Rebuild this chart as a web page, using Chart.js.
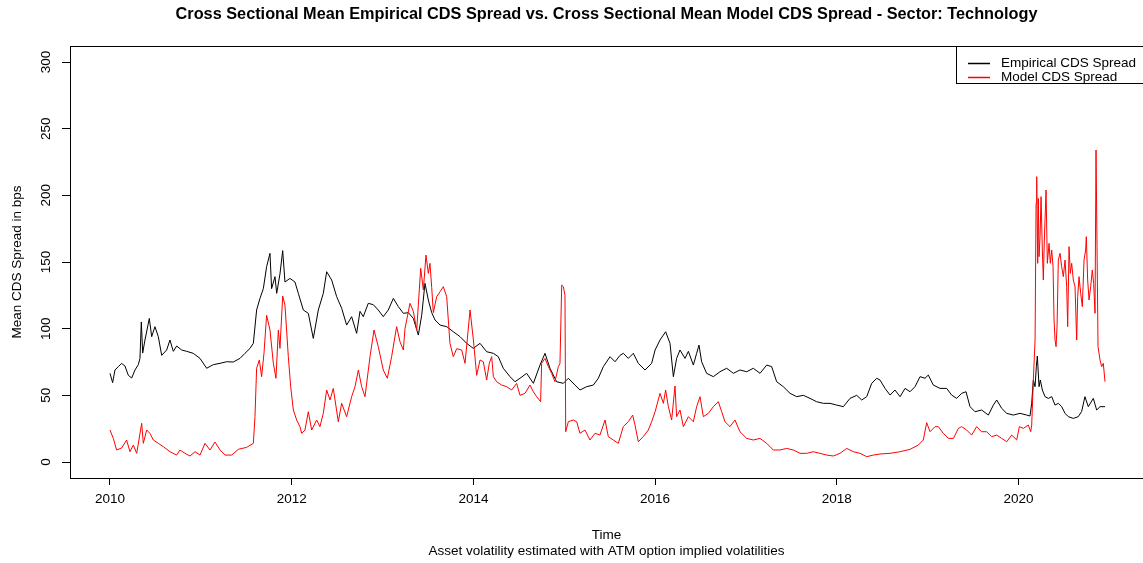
<!DOCTYPE html>
<html>
<head>
<meta charset="utf-8">
<script src="https://cdn.jsdelivr.net/npm/chart.js@4.4.1/dist/chart.umd.min.js"></script>
<style>
html,body{margin:0;padding:0;background:#fff;}
#wrap{width:1143px;height:563px;position:relative;}
</style>
</head>
<body>
<div id="wrap"><canvas id="c" width="1143" height="563"></canvas></div>
<script>
// ---- data (decimal years, bps) ----
const empYears = [2010.00,2010.029,2010.055,2010.092,2010.128,2010.165,2010.202,2010.239,2010.275,2010.312,2010.330,2010.345,2010.360,2010.385,2010.433,2010.459,2010.495,2010.532,2010.569,2010.624,2010.660,2010.697,2010.734,2010.789,2010.844,2010.917,2010.991,2011.064,2011.137,2011.211,2011.284,2011.357,2011.431,2011.486,2011.541,2011.578,2011.614,2011.651,2011.688,2011.724,2011.761,2011.779,2011.816,2011.835,2011.871,2011.901,2011.926,2011.981,2012.036,2012.073,2012.128,2012.183,2012.238,2012.293,2012.348,2012.385,2012.440,2012.495,2012.550,2012.605,2012.660,2012.715,2012.752,2012.788,2012.843,2012.898,2012.953,2013.008,2013.063,2013.119,2013.174,2013.229,2013.284,2013.339,2013.394,2013.431,2013.467,2013.504,2013.541,2013.578,2013.633,2013.706,2013.779,2013.853,2013.926,2013.999,2014.073,2014.146,2014.220,2014.274,2014.329,2014.403,2014.458,2014.513,2014.586,2014.660,2014.733,2014.788,2014.843,2014.916,2014.990,2015.045,2015.118,2015.173,2015.247,2015.320,2015.375,2015.430,2015.504,2015.559,2015.614,2015.650,2015.705,2015.760,2015.815,2015.889,2015.962,2016.000,2016.054,2016.116,2016.164,2016.201,2016.237,2016.274,2016.329,2016.366,2016.421,2016.457,2016.483,2016.512,2016.567,2016.641,2016.714,2016.788,2016.861,2016.934,2017.008,2017.081,2017.155,2017.228,2017.283,2017.338,2017.411,2017.485,2017.558,2017.632,2017.705,2017.778,2017.852,2017.925,2017.998,2018.072,2018.145,2018.219,2018.274,2018.329,2018.384,2018.439,2018.475,2018.531,2018.586,2018.640,2018.696,2018.751,2018.806,2018.861,2018.916,2018.971,2019.007,2019.062,2019.136,2019.209,2019.264,2019.319,2019.374,2019.422,2019.466,2019.521,2019.594,2019.668,2019.723,2019.760,2019.815,2019.870,2019.943,2020.016,2020.090,2020.126,2020.145,2020.163,2020.182,2020.196,2020.207,2020.226,2020.240,2020.262,2020.292,2020.328,2020.365,2020.402,2020.438,2020.475,2020.512,2020.548,2020.603,2020.658,2020.695,2020.731,2020.768,2020.823,2020.860,2020.897,2020.952];
const empValues = [66.5,59.5,69,71.5,74,72,65,63,69,73,77.7,105,81.7,91.5,107.7,94,101.5,94,80,84,91.5,83,87,84,83,81.5,77.7,70.3,73,74,75.2,75,77.7,81.5,85.2,89,114,122.7,130,146.5,156.5,130,139,126.5,141,158.5,135,137.7,135,126.5,114,111.5,92.7,114,126.5,142.7,136.5,124,115.3,102.7,109,96.5,113,109,119,118,114,109,114,122.7,116.5,111.5,112,107.7,95.2,110,134,121.5,112,106.5,102.7,101.5,97.7,94,89,85.2,89,82.7,81.5,79,70.3,64,60.2,62.8,66.5,59,72.7,81.5,70.3,60.2,59,62.8,57.7,54,56.5,57.7,62.8,71.5,79,75.2,80,81.5,77.7,81.5,74,69,74,84,91.5,97.7,89,64,77.7,84,77.7,83,72.7,81.5,87.7,75.2,66.5,64,67.7,70.3,66.5,69,67.7,70.3,66.5,72.7,71.5,60.2,56.5,51.5,49,50,47.7,45.2,44,44,42.7,41.5,47.7,50,46.5,49,59,62.8,61.5,55.2,50.2,54,49,55.2,52.7,56.5,64,62.8,65.2,57.7,55.2,55.2,50.2,47.7,51.5,52.7,41.5,37.7,39,35.2,42.7,46.5,40.2,36.5,35.2,36.5,35.2,34.5,44,61.5,56.5,71.5,79.5,56.5,61.5,54,49,47.7,49,42.7,44,41.5,36.5,34,32.7,34,38,49,41.5,47.7,39,41.5,41.5];

const modelYears = [2010.00,2010.037,2010.073,2010.128,2010.183,2010.220,2010.257,2010.294,2010.349,2010.367,2010.404,2010.440,2010.477,2010.532,2010.587,2010.660,2010.734,2010.770,2010.826,2010.881,2010.936,2010.991,2011.046,2011.101,2011.156,2011.211,2011.266,2011.339,2011.413,2011.504,2011.578,2011.596,2011.614,2011.644,2011.669,2011.695,2011.724,2011.761,2011.798,2011.827,2011.853,2011.871,2011.901,2011.926,2011.963,2011.989,2012.018,2012.055,2012.091,2012.110,2012.146,2012.183,2012.220,2012.275,2012.311,2012.348,2012.385,2012.422,2012.458,2012.513,2012.550,2012.605,2012.660,2012.697,2012.734,2012.770,2012.807,2012.862,2012.906,2012.953,2013.008,2013.053,2013.100,2013.155,2013.192,2013.229,2013.247,2013.302,2013.339,2013.376,2013.420,2013.449,2013.478,2013.504,2013.522,2013.541,2013.559,2013.596,2013.633,2013.669,2013.706,2013.742,2013.779,2013.816,2013.871,2013.908,2013.963,2014.000,2014.036,2014.073,2014.109,2014.146,2014.175,2014.201,2014.220,2014.256,2014.311,2014.366,2014.421,2014.476,2014.513,2014.568,2014.623,2014.660,2014.696,2014.740,2014.751,2014.788,2014.825,2014.861,2014.898,2014.935,2014.953,2014.972,2014.990,2015.008,2015.016,2015.045,2015.100,2015.137,2015.173,2015.228,2015.283,2015.338,2015.393,2015.449,2015.485,2015.540,2015.595,2015.650,2015.705,2015.753,2015.779,2015.815,2015.870,2015.925,2015.962,2016.000,2016.054,2016.091,2016.116,2016.146,2016.182,2016.219,2016.237,2016.274,2016.311,2016.366,2016.421,2016.457,2016.494,2016.531,2016.586,2016.641,2016.696,2016.733,2016.769,2016.824,2016.879,2016.934,2017.008,2017.081,2017.155,2017.228,2017.301,2017.375,2017.448,2017.521,2017.595,2017.668,2017.742,2017.815,2017.888,2017.962,2018.035,2018.109,2018.182,2018.255,2018.329,2018.402,2018.475,2018.586,2018.696,2018.806,2018.897,2018.952,2018.989,2019.026,2019.081,2019.117,2019.172,2019.228,2019.283,2019.338,2019.374,2019.429,2019.484,2019.539,2019.594,2019.649,2019.704,2019.760,2019.815,2019.870,2019.925,2019.980,2020.009,2020.053,2020.108,2020.134,2020.145,2020.163,2020.182,2020.193,2020.200,2020.211,2020.218,2020.226,2020.237,2020.248,2020.262,2020.273,2020.284,2020.303,2020.317,2020.336,2020.350,2020.365,2020.380,2020.391,2020.402,2020.413,2020.424,2020.438,2020.457,2020.475,2020.493,2020.512,2020.530,2020.541,2020.556,2020.570,2020.585,2020.603,2020.622,2020.640,2020.651,2020.666,2020.684,2020.702,2020.721,2020.739,2020.746,2020.761,2020.776,2020.794,2020.812,2020.827,2020.842,2020.853,2020.864,2020.875,2020.897,2020.915,2020.933,2020.952];
const modelValues = [24,17.7,9,10.5,16.5,7.7,12.7,6.5,29,14,24,21.5,16.5,14,11.5,7.7,5.2,9,6.5,4.5,7.7,5.2,14,9,15,9,5.2,5.2,9.5,11,14,34,70.3,76.5,64,81.5,110,99,74,62.8,99,85.2,124.5,117.7,79,56.5,39,31.5,26.5,21.5,24,37.7,24,31.5,26.5,36.5,54,46.5,55.2,30.2,44,34,49,56.5,69,56.5,49,79,99,86.5,69,62.8,79,101.5,90.2,84,100,119,113,99,145.2,129,155.2,141.5,149,131,112,124,127.7,131.5,124,89,79,85,84,74,114,91.5,65,76.5,75.2,61.5,74,79,64,60.2,57.7,56.5,54,59,50,51.5,57.7,52.7,49,45.2,74,77.7,71.5,66.5,60.2,71.5,74,132.7,131.5,125,22.7,30.2,31.5,30.2,21.5,24,16.5,21.5,20.2,31.5,19,16.5,14,26.5,30.2,35.2,27.7,15.2,19,24,30.2,37.7,51.5,44,54,41.5,31.5,57,34,39,26.5,34,30.2,41.5,49,34,36.5,41.5,45.2,37.7,30.2,26.5,31.5,22.7,17.7,16.5,17.7,14,9,9,10.2,9,6.5,6.5,7.7,6.5,5.2,4.5,6.5,10.2,7.7,6.5,4,5.2,6,6.5,7.7,9.5,12.7,16.5,29.5,22.7,26.5,26.5,21.5,17.7,17.7,25.2,26.5,24,20.2,26.5,22.7,22.7,19,20.2,17.7,15.2,20.2,16.5,26.5,25.2,27.7,22.7,27.7,61.5,91.5,194,214,149,197.7,154,169,199,159,136.5,166.5,204,149,164,149,159,146.5,106.5,91.5,86.5,101.5,151.5,156.5,146.5,139,151.5,131.5,101.5,161.5,141.5,149,136.5,131.5,91.5,124,139,126.5,116.5,151.5,159,169,136.5,121.5,131.5,144,134,111.5,234,161.5,86.5,76.5,71.5,74,60.2];

const xTickYears = [2010, 2012, 2014, 2016, 2018, 2020];
const yTickValues = [0, 50, 100, 150, 200, 250, 300];
const seriesNames = ['Empirical CDS Spread', 'Model CDS Spread'];
const seriesColors = ['#000000', '#ff0000'];
const titleText = 'Cross Sectional Mean Empirical CDS Spread vs. Cross Sectional Mean Model CDS Spread - Sector: Technology';
const xTitle = 'Time';
const subTitle = 'Asset volatility estimated with ATM option implied volatilities';
const yTitle = 'Mean CDS Spread in bps';

const FONT = '"Liberation Sans", Arial, sans-serif';

const decor = {
  id: 'decor',
  afterDraw(chart) {
    const ctx = chart.ctx;
    const a = chart.chartArea;
    const ys = chart.scales.y;
    const cx = (a.left + a.right) / 2;
    ctx.save();
    // box
    ctx.strokeStyle = '#000';
    ctx.lineWidth = 1;
    ctx.strokeRect(Math.round(a.left) + 0.5, Math.round(a.top) + 0.5, a.right - a.left, a.bottom - a.top);
    // title
    ctx.fillStyle = '#000';
    ctx.font = 'bold 16.3px ' + FONT;
    ctx.textAlign = 'center';
    ctx.textBaseline = 'middle';
    ctx.fillText(titleText, cx, 15);
    // x titles
    ctx.font = '13.5px ' + FONT;
    ctx.fillText(xTitle, cx, 535);
    ctx.fillText(subTitle, cx, 551);
    // y tick labels (rotated)
    yTickValues.forEach(v => {
      const py = ys.getPixelForValue(v);
      ctx.save();
      ctx.translate(46, py);
      ctx.rotate(-Math.PI / 2);
      ctx.fillStyle = '#000';
      ctx.font = '13.5px ' + FONT;
      ctx.textAlign = 'center';
      ctx.textBaseline = 'middle';
      ctx.fillText(String(v), 0, 0);
      ctx.restore();
    });
    // y title
    ctx.save();
    ctx.translate(17, (a.top + a.bottom) / 2);
    ctx.rotate(-Math.PI / 2);
    ctx.font = '13.5px ' + FONT;
    ctx.textAlign = 'center';
    ctx.textBaseline = 'middle';
    ctx.fillText(yTitle, 0, 0);
    ctx.restore();
    // legend
    const lx = 956, ly = a.top;
    ctx.fillStyle = '#fff';
    ctx.fillRect(lx + 0.5, ly + 0.5, a.right - lx, 37);
    ctx.strokeStyle = '#000';
    ctx.strokeRect(lx + 0.5, Math.round(ly) + 0.5, a.right - lx + 5, 37);
    seriesNames.forEach((name, i) => {
      const yy = ly + 17.5 + i * 14;
      ctx.strokeStyle = seriesColors[i];
      ctx.lineWidth = 1.5;
      ctx.beginPath();
      ctx.moveTo(968, yy);
      ctx.lineTo(990, yy);
      ctx.stroke();
      ctx.fillStyle = '#000';
      ctx.font = '13.5px ' + FONT;
      ctx.textAlign = 'left';
      ctx.textBaseline = 'middle';
      ctx.fillText(name, 1001, yy);
    });
    ctx.restore();
  }
};

new Chart(document.getElementById('c'), {
  type: 'line',
  data: {
    datasets: [
      {
        label: seriesNames[1],
        data: modelYears.map((x, i) => ({ x: x, y: modelValues[i] })),
        borderColor: seriesColors[1],
        borderWidth: 1,
        pointRadius: 0,
        tension: 0,
        fill: false,
        order: 0
      },
      {
        label: seriesNames[0],
        data: empYears.map((x, i) => ({ x: x, y: empValues[i] })),
        borderColor: seriesColors[0],
        borderWidth: 1,
        pointRadius: 0,
        tension: 0,
        fill: false,
        order: 1
      }
    ]
  },
  options: {
    responsive: false,
    animation: false,
    devicePixelRatio: 1,
    layout: { padding: { top: 46, left: 0, right: 0, bottom: 0 } },
    plugins: { legend: { display: false }, title: { display: false }, tooltip: { enabled: false } },
    scales: {
      x: {
        type: 'linear',
        min: 2009.56,
        max: 2021.37,
        afterBuildTicks: s => { s.ticks = xTickYears.map(v => ({ value: v })); },
        afterFit: s => { s.height = 85; },
        border: { display: false },
        grid: { drawOnChartArea: false, drawTicks: true, tickLength: 7, color: '#000', tickColor: '#000' },
        ticks: { color: '#000', font: { family: FONT, size: 13.5 }, padding: 6, maxRotation: 0, autoSkip: false, callback: v => String(v) }
      },
      y: {
        type: 'linear',
        min: -12,
        max: 312,
        afterBuildTicks: s => { s.ticks = yTickValues.map(v => ({ value: v })); },
        afterFit: s => { s.width = 70; },
        border: { display: false },
        grid: { drawOnChartArea: false, drawTicks: true, tickLength: 8, color: '#000', tickColor: '#000' },
        ticks: { display: false }
      }
    }
  },
  plugins: [decor]
});
</script>
</body>
</html>
